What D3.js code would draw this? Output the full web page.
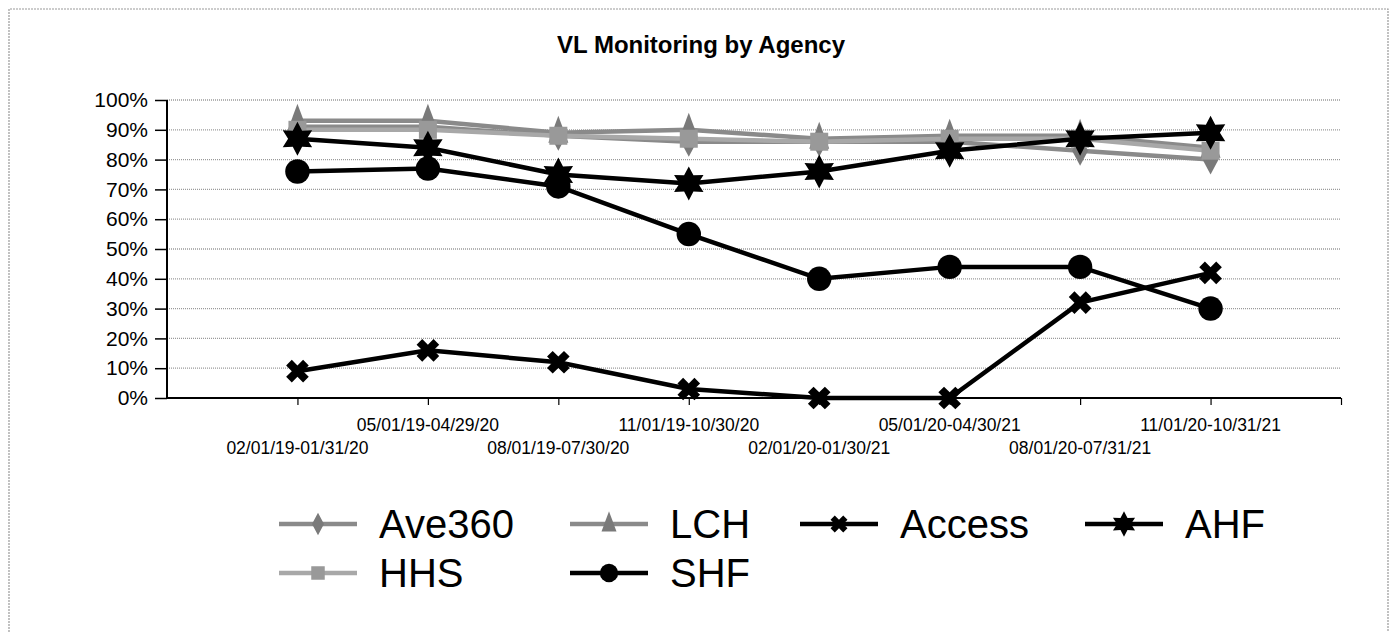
<!DOCTYPE html>
<html>
<head>
<meta charset="utf-8">
<script src="https://cdn.jsdelivr.net/npm/d3@7"></script>
<style>
body { margin: 0; background: #fff; }
text { font-family: Arial, "Liberation Sans", sans-serif; }
</style>
</head>
<body>
<svg id="chart"></svg>
<script>
var periods = ["02/01/19-01/31/20", "05/01/19-04/29/20", "08/01/19-07/30/20", "11/01/19-10/30/20",
               "02/01/20-01/30/21", "05/01/20-04/30/21", "08/01/20-07/31/21", "11/01/20-10/31/21"];
var yTicks = [0, 10, 20, 30, 40, 50, 60, 70, 80, 90, 100];

var ave360 = [91, 91, 88, 86, 86, 86, 83, 80];
var lch    = [93, 93, 89, 90, 87, 88, 88, 84];
var hhs    = [90, 90, 88, 87, 86, 87, 87, 83];
var access = [9, 16, 12, 3, 0, 0, 32, 42];
var ahf    = [87, 84, 75, 72, 76, 83, 87, 89];
var shf    = [76, 77, 71, 55, 40, 44, 44, 30];

var series = [
  {name: "Ave360", values: ave360, line: "#8a8a8a", mark: "#7a7a7a", shape: "diamond"},
  {name: "LCH",    values: lch,    line: "#8a8a8a", mark: "#7a7a7a", shape: "triangle"},
  {name: "HHS",    values: hhs,    line: "#a8a8a8", mark: "#999999", shape: "square"},
  {name: "Access", values: access, line: "#000", mark: "#000", shape: "cross"},
  {name: "AHF",    values: ahf,    line: "#000", mark: "#000", shape: "star6"},
  {name: "SHF",    values: shf,    line: "#000", mark: "#000", shape: "circle"}
];
var legendOrder = ["Ave360", "LCH", "Access", "AHF", "HHS", "SHF"];

var W = 1393, H = 632;
var svg = d3.select("#chart").attr("width", W).attr("height", H);

// outer frame (open at bottom)
svg.append("path")
  .attr("d", "M9,632 L9,9 L1388,9 L1388,632")
  .attr("fill", "none").attr("stroke", "#999").attr("stroke-width", 1.2)
  .attr("stroke-dasharray", "2,1");

svg.append("text").text("VL Monitoring by Agency")
  .attr("x", 701).attr("y", 53).attr("text-anchor", "middle")
  .style("font-size", "24px").style("font-weight", "bold");

var x = d3.scaleLinear().domain([0, 9]).range([167, 1341]);
var y = d3.scaleLinear().domain([0, 100]).range([398, 100]);

// grid
svg.append("g").selectAll("line").data(yTicks.filter(function(d) { return d > 0; }))
  .enter().append("line")
  .attr("x1", 167).attr("x2", 1341)
  .attr("y1", function(d) { return y(d); }).attr("y2", function(d) { return y(d); })
  .attr("stroke", "#9a9a9a").attr("stroke-width", 1.3).attr("stroke-dasharray", "1,1");

// y axis
var yAxis = svg.append("g").attr("transform", "translate(167,0)")
  .call(d3.axisLeft(y).tickValues(yTicks).tickSize(12).tickPadding(7)
        .tickFormat(function(d) { return d + "%"; }));
yAxis.select(".domain").attr("stroke-width", 2).attr("d", "M0," + y(100) + "V" + y(0));
yAxis.selectAll(".tick line").attr("stroke-width", 1.5);
yAxis.selectAll("text").style("font-size", "21px").attr("fill", "#000")
  .style("font-family", "Arial, 'Liberation Sans', sans-serif");

// x axis
var xAxis = svg.append("g").attr("transform", "translate(0," + y(0) + ")")
  .call(d3.axisBottom(x).tickValues(d3.range(1, 10)).tickSize(7).tickFormat(""));
xAxis.select(".domain").attr("stroke-width", 2).attr("d", "M167,0H1341");
xAxis.selectAll(".tick line").attr("stroke-width", 1.2);

svg.append("g").selectAll("text").data(periods).enter().append("text")
  .attr("x", function(d, i) { return x(i + 1); })
  .attr("y", function(d, i) { return i % 2 ? 431 : 454; })
  .attr("text-anchor", "middle")
  .style("font-size", "17.5px")
  .text(function(d) { return d; });

function star6(r) {
  var pts = [];
  for (var k = 0; k < 12; k++) {
    var a = Math.PI / 6 * k - Math.PI / 2;
    var rr = k % 2 ? r * 0.55 : r;
    pts.push([Math.cos(a) * rr, Math.sin(a) * rr]);
  }
  return "M" + pts.join("L") + "Z";
}

function markerPath(shape, s) {
  s = s || 1;
  if (shape === "diamond") return "M0," + (-15 * s) + "L" + (8 * s) + ",0L0," + (15 * s) + "L" + (-8 * s) + ",0Z";
  if (shape === "triangle") return "M0," + (-17 * s) + "L" + (10 * s) + "," + (10 * s) + "L" + (-10 * s) + "," + (10 * s) + "Z";
  if (shape === "square") return "M" + (-9 * s) + "," + (-9 * s) + "h" + (18 * s) + "v" + (18 * s) + "h" + (-18 * s) + "Z";
  if (shape === "cross") return d3.symbol(d3.symbolCross, 320 * s * s)();
  if (shape === "star6") return star6(17 * s);
  return d3.symbol(d3.symbolCircle, 470 * s * s)();
}

var line = d3.line()
  .x(function(d, i) { return x(i + 1); })
  .y(function(d) { return y(d); });

series.forEach(function(s) {
  var g = svg.append("g");
  g.append("path").datum(s.values)
    .attr("d", line).attr("fill", "none")
    .attr("stroke", s.line).attr("stroke-width", 4.5);
  g.selectAll(".mk").data(s.values).enter().append("path")
    .attr("class", "mk")
    .attr("d", markerPath(s.shape))
    .attr("fill", s.mark)
    .attr("transform", function(d, i) {
      return "translate(" + x(i + 1) + "," + y(d) + ")" + (s.shape === "cross" ? " rotate(45)" : "");
    });
});

// legend
var legX = [279, 570, 800, 1085];
var legY = [524, 573];
legendOrder.forEach(function(name, k) {
  var s = series.filter(function(d) { return d.name === name; })[0];
  var lx = legX[k % 4], ly = legY[Math.floor(k / 4)];
  var g = svg.append("g").attr("transform", "translate(" + lx + "," + ly + ")");
  g.append("line").attr("x1", 0).attr("x2", 78).attr("y1", 0).attr("y2", 0)
    .attr("stroke", s.line).attr("stroke-width", 4.5);
  g.append("path").attr("d", markerPath(s.shape, 0.75)).attr("fill", s.mark)
    .attr("transform", "translate(39,0)" + (s.shape === "cross" ? " rotate(45)" : ""));
  g.append("text").text(name).attr("x", 100).attr("y", 14)
    .style("font-size", "40px");
});
</script>
</body>
</html>
